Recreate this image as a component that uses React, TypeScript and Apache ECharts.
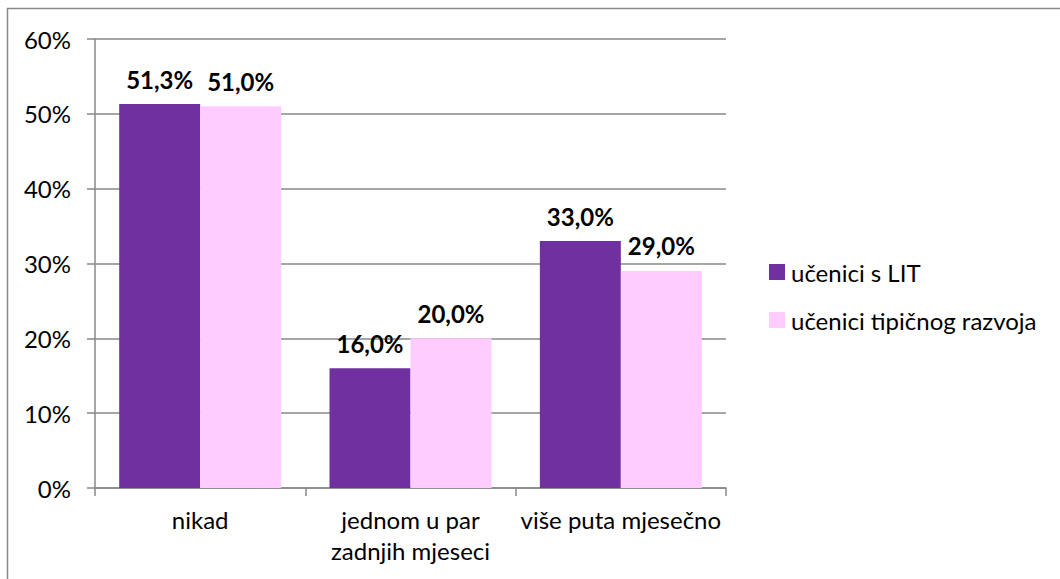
import React, { useEffect, useRef } from "react";
import * as echarts from "echarts";

const categories = ["nikad", "jednom u par\nzadnjih mjeseci", "više puta mjesečno"];
const seriesNames = ["učenici s LIT", "učenici tipičnog razvoja"];
const lit = [51.3, 16.0, 33.0];
const typical = [51.0, 20.0, 29.0];
const colors = ["#7030A0", "#FFCCFF"];

const FONT = "Lato";

export default function App() {
  const ref = useRef<HTMLDivElement>(null);
  useEffect(() => {
    const chart = echarts.init(ref.current!, null, { renderer: "svg" });
    const fmt = (p: any) => p.value.toFixed(1).replace(".", ",") + "%";
    const lbl = { show: true, position: "top", distance: 13, formatter: fmt, fontFamily: FONT, fontWeight: "bold", fontSize: 24, color: "#000" };
    chart.setOption({
      animation: false,
      textStyle: { fontFamily: FONT },
      graphic: [
        {
          type: "rect",
          shape: { x: 7.5, y: 8.5, width: 1070, height: 600 },
          style: { fill: "none", stroke: "#898989", lineWidth: 1.5 },
          silent: true,
        },
      ],
      grid: { left: 95, right: 334, top: 39, bottom: 91 },
      legend: {
        orient: "vertical",
        left: 764,
        top: 255,
        itemWidth: 16,
        itemHeight: 16,
        itemGap: 24,
        icon: "rect",
        textStyle: { fontFamily: FONT, fontSize: 24, lineHeight: 24, color: "#000", padding: [0, 0, 0, 1] },
        data: seriesNames,
      },
      xAxis: {
        type: "category",
        data: categories,
        axisLine: { lineStyle: { color: "#888", width: 1.5 } },
        axisTick: { show: true, length: 8, lineStyle: { color: "#888", width: 1.5 } },
        axisLabel: { interval: 0, fontFamily: FONT, fontSize: 24, color: "#000", margin: 16, lineHeight: 31 },
      },
      yAxis: {
        type: "value",
        min: 0,
        max: 60,
        interval: 10,
        axisLine: { show: true, lineStyle: { color: "#888", width: 1.5 } },
        axisTick: { show: true, length: 8, lineStyle: { color: "#888", width: 1.5 } },
        splitLine: { lineStyle: { color: "#888", width: 1.5 } },
        axisLabel: { fontFamily: FONT, fontSize: 24, color: "#000", margin: 24, formatter: "{value}%" },
      },
      series: [
        {
          name: seriesNames[0],
          type: "bar",
          data: lit,
          itemStyle: { color: colors[0] },
          barGap: "0%",
          barCategoryGap: "23%",
          label: lbl,
        },
        {
          name: seriesNames[1],
          type: "bar",
          data: typical,
          itemStyle: { color: colors[1] },
          barGap: "0%",
          barCategoryGap: "23%",
          label: lbl,
        },
      ],
    });
    return () => chart.dispose();
  }, []);
  return <div ref={ref} style={{ width: 1060, height: 579, position: "absolute", left: 0, top: 0 }} />;
}
